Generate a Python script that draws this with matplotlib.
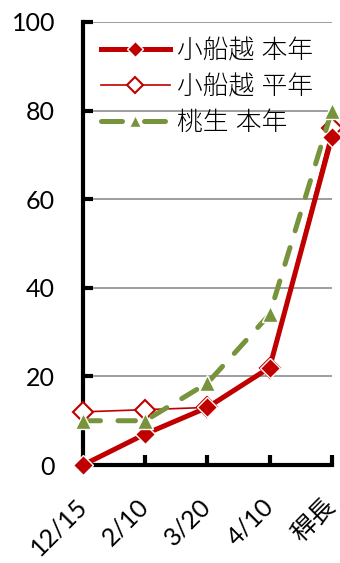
import matplotlib
matplotlib.use('Agg')
import matplotlib.pyplot as plt
from matplotlib.lines import Line2D

plt.rcParams['font.family'] = ['Lato', 'Noto Sans CJK JP', 'DejaVu Sans']

# categories and series values
categories = ['12/15', '2/10', '3/20', '4/10', '稈長']
kofunakoshi_this = [0, 7, 13, 22, 74]
kofunakoshi_normal = [12, 12.5, 13, 22, 76]
monou_this = [10, 10, 18.5, 34, 80]

red = '#C00000'
green = '#77933C'

fig = plt.figure(figsize=(3.4, 5.63), dpi=100)
ax = fig.add_axes([0.244, 0.174, 0.732, 0.787])

x = list(range(len(categories)))

l1, = ax.plot(x, kofunakoshi_this, color=red, lw=3.6, marker='D', ms=10.5,
              mfc=red, mec='white', mew=1, clip_on=False, zorder=4,
              label='小船越 本年')
l2, = ax.plot(x, kofunakoshi_normal, color=red, lw=1.2, marker='D', ms=10.5,
              mfc='white', mec=red, mew=1.5, clip_on=False, zorder=3,
              label='小船越 平年')
ax.plot(x, monou_this, color=green, lw=3.6, marker='^', ms=11,
        mfc=green, mec='white', mew=1, clip_on=False, zorder=5,
        dashes=(3.5, 3.5), dash_capstyle='round')
# legend sample with longer dashes, as in the original
l3 = Line2D([], [], color=green, lw=3.6, marker='^', ms=11, mfc=green,
            mec='white', mew=1, dashes=(4.2, 4.4), dash_capstyle='round',
            label='桃生 本年')

ax.set_xlim(0, 4)
ax.set_ylim(0, 100)
ax.set_yticks([0, 20, 40, 60, 80, 100])
ax.set_xticks(x)
ax.set_xticklabels(categories, rotation=45, ha='right', va='center',
                   rotation_mode='anchor')

ax.grid(axis='y', color='#8c8c8c', lw=1.2)
ax.set_axisbelow(True)
for s in ['top', 'right']:
    ax.spines[s].set_visible(False)
for s in ['left', 'bottom']:
    ax.spines[s].set_linewidth(3)
    ax.spines[s].set_color('black')

ax.tick_params(axis='both', direction='in', length=7, width=3,
               labelsize=18, colors='black')
ax.tick_params(axis='y', pad=20)
ax.tick_params(axis='x', pad=27)

leg = ax.legend(handles=[l1, l2, l3], loc='upper left',
                bbox_to_anchor=(0.03, 0.985), frameon=False,
                fontsize=18.5, handlelength=2.7, handletextpad=0.25,
                labelspacing=0.45, borderaxespad=0, markerscale=0.75)
for t in leg.get_texts():
    t.set_fontweight('light')

fig.savefig('out.png', dpi=100)
